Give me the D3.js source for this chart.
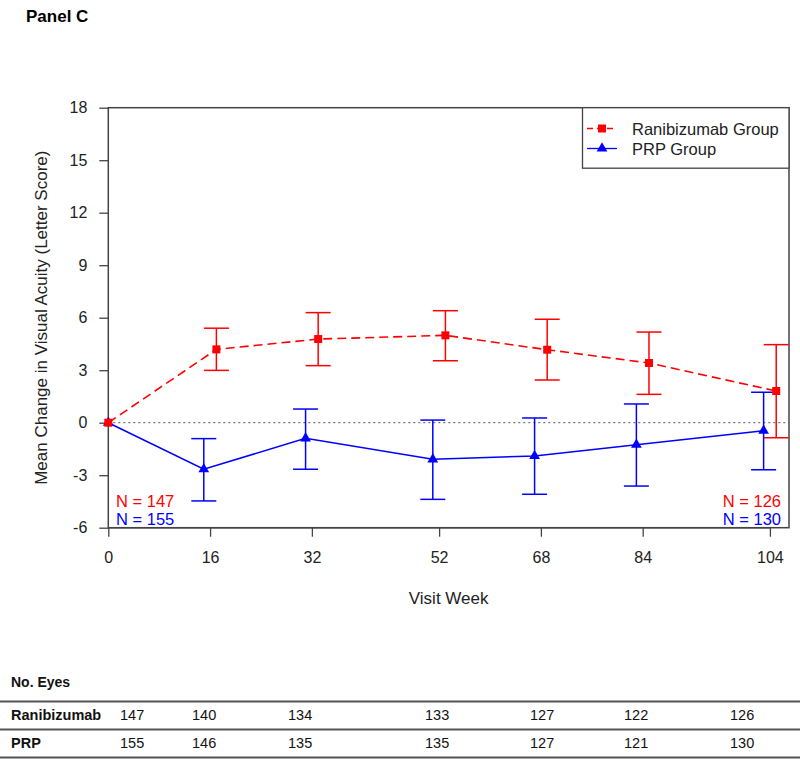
<!DOCTYPE html>
<html><head><meta charset="utf-8">
<script src="https://cdn.jsdelivr.net/npm/d3@7"></script>
<style>body{margin:0;background:#fff}svg{display:block;font-family:"Liberation Sans",Arial,sans-serif}</style>
</head><body><svg id="c" width="800" height="759"></svg>
<script>
// ---- data ----
const weeks = [0, 16, 32, 52, 68, 84, 104];
const ranMean = [0, 4.19, 4.78, 4.99, 4.17, 3.41, 1.81];
const ranLow  = [0, 2.99, 3.26, 3.54, 2.44, 1.62, -0.86];
const ranHigh = [0, 5.40, 6.29, 6.40, 5.91, 5.18, 4.46];
const prpMean = [0, -2.66, -0.89, -2.09, -1.90, -1.26, -0.46];
const prpLow  = [0, -4.47, -2.66, -4.38, -4.09, -3.62, -2.69];
const prpHigh = [0, -0.91, 0.78, 0.15, 0.27, 1.07, 1.74];
const yTicks = [-6, -3, 0, 3, 6, 9, 12, 15, 18];
const seriesNames = ["Ranibizumab Group", "PRP Group"];
const tableRows = ["Ranibizumab", "PRP"];
const ranEyes = [147, 140, 134, 133, 127, 122, 126];
const prpEyes = [155, 146, 135, 135, 127, 121, 130];
const nLabelsLeft = ["N = 147", "N = 155"];
const nLabelsRight = ["N = 126", "N = 130"];

// ---- layout ----
const W = 800, H = 759;
const plot = {left: 108.3, right: 789, top: 107.7, bottom: 527.7};
const tableColX = [120, 192, 288, 425, 530, 624, 730];
const RED = "#ff0000", BLUE = "#0000ff", AX = "#444";
const dodge = 6.3;

const svg = d3.select("#c");
const x = d3.scaleLinear().domain([0, 107]).range([plot.left, plot.right]);
const y = d3.scaleLinear().domain([-6, 18]).range([plot.bottom, plot.top]);

svg.append("text").attr("x", 26).attr("y", 22).attr("font-size", 17).attr("font-weight", "bold").text("Panel C");

// box
svg.append("rect").attr("x", plot.left).attr("y", plot.top)
  .attr("width", plot.right - plot.left).attr("height", plot.bottom - plot.top)
  .attr("fill", "none").attr("stroke", AX).attr("stroke-width", 1.5);

// axes
const yAxis = d3.axisLeft(y).tickValues(yTicks).tickSize(9).tickPadding(12).tickFormat(d => String(d));
const gy = svg.append("g").attr("transform", `translate(${plot.left},0)`).call(yAxis);
const xAxis = d3.axisBottom(x).tickValues(weeks).tickSize(9).tickPadding(15).tickFormat(d => String(d));
const gx = svg.append("g").attr("transform", `translate(0,${plot.bottom})`).call(xAxis);
[gx, gy].forEach(g => {
  g.select(".domain").remove();
  g.attr("font-size", 16).attr("font-family", "Liberation Sans, Arial, sans-serif");
  g.selectAll(".tick line").attr("stroke", AX).attr("stroke-width", 1.3);
  g.selectAll(".tick text").attr("fill", "#222");
});
svg.append("line").attr("x1", x(0)).attr("x2", x(104)).attr("y1", plot.bottom).attr("y2", plot.bottom).attr("stroke", AX).attr("stroke-width", 1.5);

svg.append("text").attr("x", (plot.left + plot.right) / 2).attr("y", 604).attr("text-anchor", "middle")
  .attr("font-size", 17).attr("fill", "#222").text("Visit Week");
svg.append("text").attr("transform", `translate(47,${(plot.top + plot.bottom) / 2}) rotate(-90)`)
  .attr("text-anchor", "middle").attr("font-size", 17).attr("fill", "#222")
  .text("Mean Change in Visual Acuity (Letter Score)");

// zero reference line
svg.append("line").attr("x1", plot.left).attr("x2", plot.right).attr("y1", y(0)).attr("y2", y(0))
  .attr("stroke", "#555").attr("stroke-width", 1).attr("stroke-dasharray", "2,3");

function drawSeries(mean, lo, hi, color, off, dash, marker) {
  const pts = weeks.map((w, i) => ({w, m: mean[i], lo: lo[i], hi: hi[i], px: x(w) + (w === 0 ? 0 : off)}));
  const g = svg.append("g");
  g.append("path").datum(pts)
    .attr("d", d3.line().x(d => d.px).y(d => y(d.m)))
    .attr("fill", "none").attr("stroke", color).attr("stroke-width", 1.6)
    .attr("stroke-dasharray", dash);
  const eb = pts.filter(d => d.w !== 0);
  g.selectAll(".eb").data(eb).join("line")
    .attr("x1", d => d.px).attr("x2", d => d.px).attr("y1", d => y(d.lo)).attr("y2", d => y(d.hi))
    .attr("stroke", color).attr("stroke-width", 1.5);
  ["lo", "hi"].forEach(k => {
    g.selectAll(".cap" + k).data(eb).join("line")
      .attr("x1", d => d.px - 12.5).attr("x2", d => d.px + 12.5)
      .attr("y1", d => y(d[k])).attr("y2", d => y(d[k]))
      .attr("stroke", color).attr("stroke-width", 1.5);
  });
  g.selectAll(".mk").data(pts).join("path")
    .attr("transform", d => `translate(${d.px},${y(d.m)})`)
    .attr("d", marker).attr("fill", color);
}
const sq = d3.symbol(d3.symbolSquare, 64)();
const tri = d3.symbol(d3.symbolTriangle, 50)();
drawSeries(prpMean, prpLow, prpHigh, BLUE, -dodge, null, tri);
drawSeries(ranMean, ranLow, ranHigh, RED, dodge, "9,5", sq);

// N labels
[[nLabelsLeft, 116, "start"], [nLabelsRight, 781, "end"]].forEach(([labs, xx, anc]) => {
  labs.forEach((t, i) => {
    svg.append("text").attr("x", xx).attr("y", 507 + i * 17.5).attr("text-anchor", anc)
      .attr("font-size", 16.5).attr("fill", i === 0 ? RED : BLUE).text(t);
  });
});

// legend
const lg = svg.append("g");
lg.append("rect").attr("x", 582.5).attr("y", plot.top).attr("width", plot.right - 582.5).attr("height", 60.5)
  .attr("fill", "#fff").attr("stroke", AX).attr("stroke-width", 1.3);
const legendItems = [[seriesNames[0], RED, "6,4", sq], [seriesNames[1], BLUE, null, tri]];
legendItems.forEach(([name, col, dash, mk], i) => {
  const yy = 128.5 + i * 20;
  lg.append("line").attr("x1", 587).attr("x2", 617).attr("y1", yy).attr("y2", yy)
    .attr("stroke", col).attr("stroke-width", 1.3).attr("stroke-dasharray", dash);
  lg.append("path").attr("transform", `translate(602,${yy})`).attr("d", mk).attr("fill", col);
  lg.append("text").attr("x", 632).attr("y", yy + 6).attr("font-size", 16.5).attr("fill", "#222").text(name);
});

// table
svg.append("text").attr("x", 11).attr("y", 687).attr("font-size", 14).attr("font-weight", "bold").attr("fill", "#111").text("No. Eyes");
[701.5, 729.5, 757.5].forEach(yy => {
  svg.append("line").attr("x1", 0).attr("x2", W).attr("y1", yy).attr("y2", yy).attr("stroke", "#555").attr("stroke-width", 2);
});
[ranEyes, prpEyes].forEach((vals, r) => {
  const yy = 720 + r * 28;
  svg.append("text").attr("x", 11).attr("y", yy).attr("font-size", 14.5).attr("font-weight", "bold").attr("fill", "#111").text(tableRows[r]);
  svg.selectAll(null).data(vals).join("text")
    .attr("x", (d, i) => tableColX[i]).attr("y", yy).attr("font-size", 14.5).attr("fill", "#111").text(d => d);
});
</script></body></html>
